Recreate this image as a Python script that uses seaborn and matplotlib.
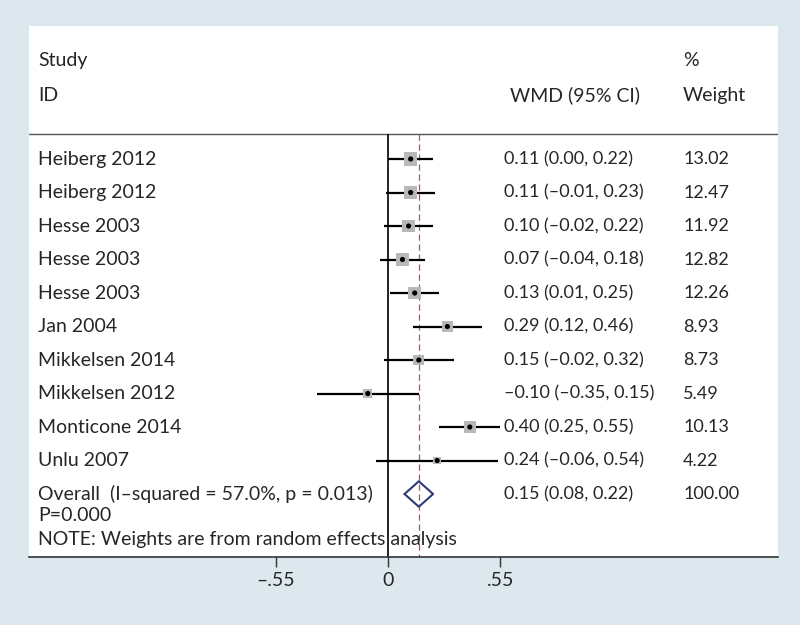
import matplotlib
matplotlib.use("Agg")
import matplotlib.pyplot as plt
import seaborn as sns
import numpy as np
import pandas as pd

# ----------------------------
# Data
# ----------------------------
studies = ["Heiberg 2012", "Heiberg 2012", "Hesse 2003", "Hesse 2003", "Hesse 2003",
           "Jan 2004", "Mikkelsen 2014", "Mikkelsen 2012", "Monticone 2014", "Unlu 2007"]
wmd = [0.11, 0.11, 0.10, 0.07, 0.13, 0.29, 0.15, -0.10, 0.40, 0.24]
ci_low = [0.00, -0.01, -0.02, -0.04, 0.01, 0.12, -0.02, -0.35, 0.25, -0.06]
ci_high = [0.22, 0.23, 0.22, 0.18, 0.25, 0.46, 0.32, 0.15, 0.55, 0.54]
weights = [13.02, 12.47, 11.92, 12.82, 12.26, 8.93, 8.73, 5.49, 10.13, 4.22]

overall = [0.15, 0.08, 0.22]
overall_weight = 100.00
ticks = [-0.55, 0, 0.55]
tick_labels = ["\u2013.55", "0", ".55"]

df = pd.DataFrame({"study": studies, "wmd": wmd, "lo": ci_low, "hi": ci_high, "w": weights})
df["row"] = np.arange(len(df))


def fmt(v):
    return f"{v:.2f}".replace("-", "\u2013")


sns.set_style("white")
plt.rcParams["font.family"] = ["Lato", "DejaVu Sans"]

bg = "#dde8ee"
fig = plt.figure(figsize=(8, 6.25), dpi=100, facecolor=bg)
ax = fig.add_axes([0.03625, 0.1088, 0.93625, 0.8496])
ax.set_facecolor("white")

# ----------------------------
# Reference lines
# ----------------------------
top_line = -0.75
ax.axhline(top_line, color="#555555", lw=1.0)
ax.vlines(0, top_line, 11.88, color="black", lw=1.2)
ax.vlines(overall[0], top_line, 11.88, color="#c0504d", lw=0.9, linestyles=(0, (5, 3)))

# ----------------------------
# CI lines, weight squares, point estimates
# ----------------------------
ax.hlines(df["row"], df["lo"], df["hi"], color="black", lw=1.6, zorder=2)
sns.scatterplot(data=df, x="wmd", y="row", marker="s", s=df["w"] * 7.0,
                color="#b8b8b8", edgecolor="none", ax=ax, zorder=3, legend=False)
sns.scatterplot(data=df, x="wmd", y="row", marker="o", s=14,
                color="black", edgecolor="none", ax=ax, zorder=4, legend=False)

# overall diamond
orow = len(df)
dx = [overall[1], overall[0], overall[2], overall[0], overall[1]]
dy = [orow, orow - 0.38, orow, orow + 0.38, orow]
ax.plot(dx, dy, color="#2e3a7a", lw=1.5, zorder=4)

# ----------------------------
# Text columns
# ----------------------------
fs = 14
fn = 13
x_study = -1.715
x_ci = 0.565
x_w = 1.445
ax.text(x_study, -2.93, "Study", fontsize=fs, va="center")
ax.text(x_study, -1.91, "ID", fontsize=fs, va="center")
ax.text(x_ci + 0.03, -1.91, "WMD (95% CI)", fontsize=fs, va="center")
ax.text(x_w, -2.93, "%", fontsize=fs, va="center")
ax.text(x_w, -1.91, "Weight", fontsize=fs, va="center")

for _, r in df.iterrows():
    ax.text(x_study, r["row"], r["study"], fontsize=fs, va="center")
    ax.text(x_ci, r["row"], f"{fmt(r['wmd'])} ({fmt(r['lo'])}, {fmt(r['hi'])})",
            fontsize=fn, va="center")
    ax.text(x_w, r["row"], f"{r['w']:.2f}", fontsize=fn, va="center")

ax.text(x_study, orow, "Overall  (I\u2013squared = 57.0%, p = 0.013)", fontsize=fs, va="center")
ax.text(x_study, orow + 0.63, "P=0.000", fontsize=fs, va="center")
ax.text(x_ci, orow, f"{fmt(overall[0])} ({fmt(overall[1])}, {fmt(overall[2])})",
        fontsize=fn, va="center")
ax.text(x_w, orow, f"{overall_weight:.2f}", fontsize=fn, va="center")
ax.text(x_study, orow + 1.37, "NOTE: Weights are from random effects analysis", fontsize=fs, va="center")

# ----------------------------
# Axes styling
# ----------------------------
ax.set_xlim(-1.76, 1.91)
ax.set_ylim(11.88, -3.97)
ax.set_xticks(ticks)
ax.set_xticklabels(tick_labels, fontsize=fs)
ax.set_yticks([])
ax.set_xlabel("")
ax.set_ylabel("")
for side in ["top", "left", "right"]:
    ax.spines[side].set_visible(False)
ax.spines["bottom"].set_color("#333333")
ax.spines["bottom"].set_linewidth(1.2)
ax.tick_params(axis="x", direction="out", length=7, width=1, color="#333333", pad=4,
               bottom=True)

fig.savefig("out.png", dpi=100, facecolor=bg)
plt.close(fig)
